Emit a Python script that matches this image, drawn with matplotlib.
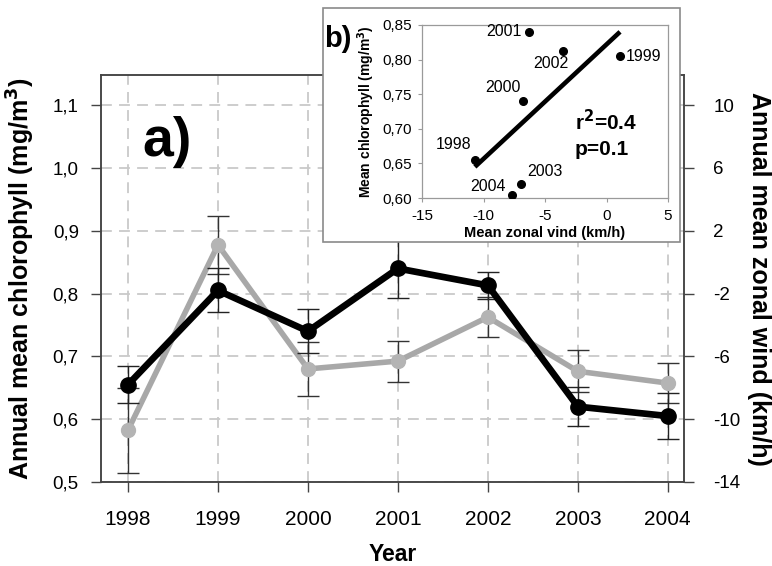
import matplotlib
matplotlib.use("Agg")
import matplotlib.pyplot as plt
from matplotlib.patches import Rectangle
from matplotlib.ticker import FuncFormatter
import numpy as np

plt.rcParams['font.family'] = ['Liberation Sans', 'DejaVu Sans']
plt.rcParams['axes.unicode_minus'] = False

# Annual means 1998-2004
years = [1998, 1999, 2000, 2001, 2002, 2003, 2004]
chl = [0.655, 0.805, 0.740, 0.840, 0.813, 0.620, 0.605]        # mg/m3
chl_err = [0.030, 0.035, 0.035, 0.047, 0.022, 0.031, 0.036]
wind = [-10.7, 1.1, -6.8, -6.3, -3.5, -6.95, -7.7]               # km/h
wind_err = [2.7, 1.85, 1.7, 1.3, 1.25, 1.35, 1.3]

chl_ticks = [0.5, 0.6, 0.7, 0.8, 0.9, 1.0, 1.1]
wind_ticks = [-14, -10, -6, -2, 2, 6, 10]
inset_xticks = [-15, -10, -5, 0, 5]
inset_yticks = [0.60, 0.65, 0.70, 0.75, 0.80, 0.85]

W, H = 772, 566
fig = plt.figure(figsize=(W / 100, H / 100), dpi=100)


def fbox(x0, y0, x1, y1):
    return [x0 / W, 1 - y1 / H, (x1 - x0) / W, (y1 - y0) / H]


spine_col = '#444444'
grid_col = '#c9c9c9'

# ---- main panel a) ----
ax = fig.add_axes(fbox(101, 75, 684, 482))
ax2 = ax.twinx()
ax.set_zorder(2)
ax2.set_zorder(1)
ax.patch.set_visible(False)

ax.set_xlim(1997.7, 2004.18)
ax.set_ylim(0.5, 1.148)
ax2.set_ylim(-14, 11.92)

ax.set_xticks(years)
ax.set_yticks(chl_ticks)
ax2.set_yticks(wind_ticks)
ax.yaxis.set_major_formatter(FuncFormatter(lambda v, p: f"{v:.1f}".replace('.', ',')))

# dashed grid on the lower (wind) axes so both series sit on top of it
ax2.xaxis.set_visible(True)
ax2.tick_params(axis='x', length=0, labelbottom=False, labeltop=False)
ax2.grid(True, axis='both', linestyle=(0, (6, 4)), color=grid_col, linewidth=1.3)
ax2.set_axisbelow(True)

ax2.errorbar(years, wind, yerr=wind_err, fmt='none', ecolor='#333333',
             elinewidth=1.0, capsize=8, capthick=1.0, zorder=2)
ax2.plot(years, wind, '-o', color='#a8a8a8', linewidth=4, markersize=10,
         markerfacecolor='#b4b4b4', markeredgecolor='#b4b4b4', zorder=3)

ax.errorbar(years, chl, yerr=chl_err, fmt='none', ecolor='#222222',
            elinewidth=1.0, capsize=8, capthick=1.0, zorder=2)
ax.plot(years, chl, '-o', color='black', linewidth=4.8, markersize=11, zorder=3)

for a in (ax, ax2):
    for s in a.spines.values():
        s.set_color(spine_col)
        s.set_linewidth(1.1)

ax.tick_params(axis='both', direction='out', length=7, width=1, color=spine_col)
ax.tick_params(axis='y', labelsize=13.5, pad=9)
ax.tick_params(axis='x', labelsize=15, pad=13)
ax2.tick_params(axis='y', direction='out', length=7, width=1, color=spine_col,
                labelsize=13.5, pad=14)

ax.set_ylabel('Annual mean chlorophyll (mg/m$^\\mathbf{3}$)', fontsize=18,
              fontweight='bold')
ax.yaxis.set_label_coords(-0.110, 0.5)
ax2.set_ylabel('Annual mean zonal wind (km/h)', fontsize=18, fontweight='bold',
               rotation=270, va='bottom')
ax2.yaxis.set_label_coords(1.108, 0.5)
ax.set_xlabel('Year', fontsize=16.5, fontweight='bold', va='top')
ax.xaxis.set_label_coords(0.5, -0.150)

ax.text(0.113, 0.835, 'a)', transform=ax.transAxes, fontsize=40,
        fontweight='bold', ha='center', va='center')

# ---- inset panel b) ----
fig.add_artist(Rectangle((323 / W, 1 - 242 / H), (680 - 323) / W, (242 - 8) / H,
                         transform=fig.transFigure, facecolor='white',
                         edgecolor='#8a8a8a', linewidth=1.2, zorder=4))

axi = fig.add_axes(fbox(422, 25, 668, 198))
axi.set_zorder(5)
axi.set_xlim(-15, 5)
axi.set_ylim(0.60, 0.85)
axi.set_xticks(inset_xticks)
axi.set_yticks(inset_yticks)
axi.yaxis.set_major_formatter(FuncFormatter(lambda v, p: f"{v:.2f}".replace('.', ',')))
for s in axi.spines.values():
    s.set_color('#9a9a9a')
    s.set_linewidth(0.9)
axi.tick_params(axis='both', direction='out', length=3, width=0.8,
                color='#9a9a9a', labelsize=11, pad=4)
axi.tick_params(axis='x', pad=5)

axi.plot(wind, chl, 'o', color='black', markersize=5.5, zorder=3)

slope, intercept = np.polyfit(wind, chl, 1)
xfit = np.array([min(wind), max(wind)])
axi.plot(xfit, slope * xfit + intercept, color='black', linewidth=3.3,
         solid_capstyle='butt', zorder=2)

label_offsets = {
    1998: (-15, 11, 'center'),
    1999: (4, 0, 'left'),
    2000: (-14, 10, 'center'),
    2001: (-5, 0, 'right'),
    2002: (-9, -9, 'center'),
    2003: (17, 9, 'center'),
    2004: (-4, 6, 'right'),
}
for yr, x, y in zip(years, wind, chl):
    dx, dy, ha = label_offsets[yr]
    axi.annotate(str(yr), (x, y), xytext=(dx, dy), textcoords='offset points',
                 ha=ha, va='center', fontsize=11.5)

axi.text(-2.6, 0.710, 'r$^\\mathbf{2}$=0.4', fontsize=15, fontweight='bold',
         ha='left', va='center')
axi.text(-2.6, 0.670, 'p=0.1', fontsize=15, fontweight='bold',
         ha='left', va='center')

axi.set_ylabel('Mean chlorophyll (mg/m$^\\mathbf{3}$)', fontsize=10,
               fontweight='bold')
axi.yaxis.set_label_coords(-0.184, 0.5)
axi.set_xlabel('Mean zonal vind (km/h)', fontsize=10.5, fontweight='bold', va='top')
axi.xaxis.set_label_coords(0.5, -0.160)

fig.text(338 / W, 1 - 39 / H, 'b)', fontsize=21, fontweight='bold',
         ha='center', va='center', zorder=6)

fig.savefig('out.png', dpi=100, facecolor='white')
